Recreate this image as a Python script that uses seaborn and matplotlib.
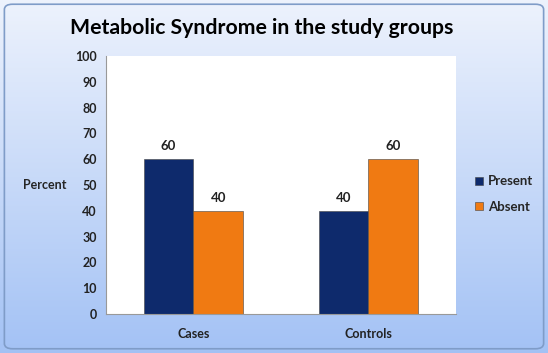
import numpy as np
import pandas as pd
import matplotlib
matplotlib.use("Agg")
import matplotlib.pyplot as plt
import seaborn as sns
from matplotlib.patches import FancyBboxPatch

groups = ["Cases", "Controls"]
status = ["Present", "Absent"]
present = [60, 40]
absent = [40, 60]

df = pd.DataFrame({
    "Group": groups * 2,
    "Status": [status[0]] * 2 + [status[1]] * 2,
    "Percent": present + absent,
})

sns.set_style("white")
plt.rcParams["font.family"] = ["Lato", "DejaVu Sans"]
plt.rcParams["font.weight"] = "bold"

fig = plt.figure(figsize=(5.48, 3.53), dpi=100)

# gradient background
bg = fig.add_axes([0, 0, 1, 1], zorder=-10)
grad = np.linspace(0, 1, 256).reshape(-1, 1)
top = np.array([0.93, 0.95, 0.99])
bot = np.array([0.64, 0.76, 0.96])
img = top + (bot - top) * grad[:, :, None]
bg.imshow(img, aspect="auto", extent=[0, 1, 0, 1], origin="upper")
bg.add_patch(FancyBboxPatch((0.008, 0.012), 0.984, 0.976, boxstyle="round,pad=0,rounding_size=0.015",
                            fill=False, edgecolor="#7F9CC8", linewidth=1.2, transform=bg.transAxes))
bg.set_xlim(0, 1)
bg.set_ylim(0, 1)
bg.axis("off")

ax = fig.add_axes([0.1934, 0.1105, 0.6387, 0.7309])
sns.barplot(data=df, x="Group", y="Percent", hue="Status", hue_order=status,
            palette=["#0E2A6C", "#F07A12"], saturation=1, width=0.57,
            edgecolor="#444444", linewidth=0.4, ax=ax)

for c in ax.containers:
    ax.bar_label(c, padding=5, fontsize=9.5, fontweight="bold", color="#222222")

ax.set_ylim(0, 100)
ax.set_xlim(-0.5, 1.5)
ax.set_yticks(range(0, 101, 10))
ax.set_xlabel("")
ax.set_ylabel("Percent", rotation=0, fontsize=9, fontweight="bold", labelpad=22, va="center")
ax.tick_params(axis="both", labelsize=9, colors="#222222", length=3, color="#999999")
ax.tick_params(axis="x", pad=10, length=0)
for lbl in ax.get_xticklabels() + ax.get_yticklabels():
    lbl.set_fontweight("bold")
ax.set_facecolor("white")
for s in ["top", "right"]:
    ax.spines[s].set_visible(False)
for s in ["left", "bottom"]:
    ax.spines[s].set_color("#999999")
    ax.spines[s].set_linewidth(0.8)

leg = ax.legend(loc="center left", bbox_to_anchor=(1.02, 0.465), frameon=False,
                fontsize=9.5, handlelength=0.6, handleheight=0.6, labelspacing=1.0, handletextpad=0.4)
for t in leg.get_texts():
    t.set_fontweight("bold")

fig.text(0.478, 0.92, "Metabolic Syndrome in the study groups", ha="center", va="center",
         fontsize=15.3, fontweight="bold", color="black")

fig.savefig("out.png", dpi=100)
